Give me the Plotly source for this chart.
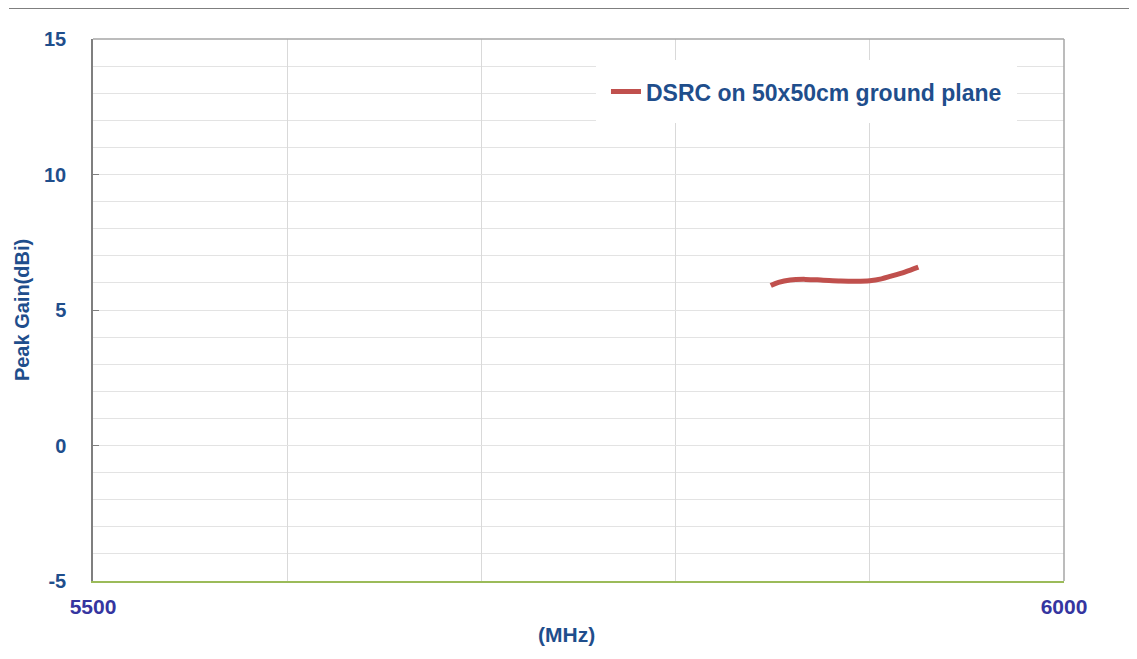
import plotly.graph_objects as go

freq_mhz = [5849, 5853, 5859, 5867, 5876, 5885, 5893, 5900, 5906, 5911, 5918, 5925]
gain_dbi = [5.90, 6.02, 6.11, 6.13, 6.10, 6.07, 6.06, 6.08, 6.15, 6.25, 6.40, 6.58]

series_name = 'DSRC on 50x50cm ground plane'
x_ticks = [5500, 5600, 5700, 5800, 5900, 6000]
x_labels = ['5500', '', '', '', '', '6000']
y_ticks = [-5, 0, 5, 10, 15]
y_labels = ['-5', '0', '5', '10', '15']

BLUE = '#1F4E8C'
FONT = 'Liberation Sans, Arial, sans-serif'

fig = go.Figure()
fig.add_trace(go.Scatter(
    x=freq_mhz, y=gain_dbi, mode='lines', name=series_name,
    line=dict(color='#C0504D', width=5, shape='spline'),
))

# page body adds 8px, so the figure is a bit smaller than the window
fig.update_layout(
    width=1129, height=651,
    margin=dict(l=85, r=73, t=31, b=78),
    plot_bgcolor='white', paper_bgcolor='white',
    showlegend=True,
    legend=dict(
        x=0.518, y=0.961, xanchor='left', yanchor='top',
        bgcolor='white', bordercolor='white', borderwidth=10,
        font=dict(family=FONT, size=23, color=BLUE, weight='bold'),
        itemwidth=30,
    ),
    xaxis=dict(
        range=[5500, 6000], tickvals=x_ticks, ticktext=x_labels,
        showgrid=True, gridcolor='#D9D9D9', gridwidth=1,
        showline=True, linecolor='#9BBB59', linewidth=1.5,
        ticks='', zeroline=False, ticklabelstandoff=6,
        tickfont=dict(family=FONT, size=21, color='#3535A0', weight='bold'),
    ),
    yaxis=dict(
        range=[-5, 15], tickvals=y_ticks, ticktext=y_labels,
        showgrid=True, gridcolor='#E3E3E3', gridwidth=1,
        minor=dict(dtick=1, showgrid=True, gridcolor='#E3E3E3', gridwidth=1),
        showline=True, linecolor='#7F7F7F', linewidth=1.5,
        ticks='inside', ticklen=6, tickcolor='#7F7F7F', zeroline=False,
        ticklabelstandoff=21,
        tickfont=dict(family=FONT, size=20, color=BLUE, weight='bold'),
    ),
    annotations=[
        dict(text='(MHz)', xref='paper', yref='paper', x=0.488, y=-0.0996,
             showarrow=False, xanchor='center', yanchor='middle',
             font=dict(family=FONT, size=21, color=BLUE, weight='bold')),
        dict(text='Peak Gain(dBi)', xref='paper', yref='paper', x=-0.073, y=0.5,
             showarrow=False, textangle=-90, xanchor='center', yanchor='middle',
             font=dict(family=FONT, size=20, color=BLUE, weight='bold')),
    ],
    shapes=[
        dict(type='line', xref='paper', yref='paper', x0=0, x1=1, y0=1, y1=1,
             line=dict(color='#A6A6A6', width=1.5)),
        dict(type='line', xref='paper', yref='paper', x0=1, x1=1, y0=0, y1=1,
             line=dict(color='#A6A6A6', width=1.5)),
        dict(type='line', xref='paper', yref='paper', x0=-0.0865, x1=1.075,
             y0=1.057, y1=1.057, line=dict(color='#555555', width=1.5)),
    ],
)

fig.write_html('out.html')
